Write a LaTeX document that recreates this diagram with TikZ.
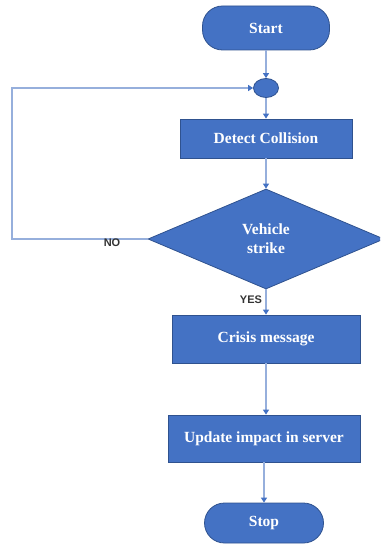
\documentclass[tikz,border=0pt]{standalone}
\usepackage{fontspec}
\setmainfont{Liberation Serif}
\newfontfamily\labelfont{Liberation Sans}
\usetikzlibrary{shapes.geometric,arrows.meta}
\definecolor{boxblue}{RGB}{68,114,196}
\definecolor{edgeblue}{RGB}{47,82,143}
\definecolor{linkblue}{RGB}{150,175,220}
\definecolor{tipblue}{RGB}{68,114,196}
\tikzset{
  shapebase/.style={fill=boxblue, draw=edgeblue, line width=0.8pt, text=white,
    font=\fontsize{15.5}{19}\selectfont\bfseries, inner sep=0pt, align=center},
  procbox/.style={shapebase, rectangle},
  termbox/.style={shapebase, rectangle, rounded corners=20pt},
  decbox/.style={shapebase, diamond},
  joinpt/.style={shapebase, ellipse},
  link/.style={draw=linkblue, line width=1.3pt, -{Triangle[length=5pt,width=6pt,fill=tipblue,color=tipblue]}},
  anslabel/.style={font=\labelfont\fontsize{11}{13}\selectfont\bfseries, text=black!80, inner sep=1pt}
}
\begin{document}
\begin{tikzpicture}[x=1pt,y=-1pt]
\useasboundingbox (0,0) rectangle (380,545);
\clip (0,0) rectangle (380,545);
\node[termbox, minimum width=127pt, minimum height=44pt] (start) at (266,28) {Start};
\node[joinpt, minimum width=25pt, minimum height=19pt] (join) at (266,88) {};
\node[procbox, minimum width=172pt, minimum height=39pt] (detect) at (266,138.5) {Detect Collision};
\node[decbox, minimum width=236pt, minimum height=100pt] (strike) at (266,239) {Vehicle\\strike};
\node[procbox, minimum width=188pt, minimum height=48pt] (crisis) at (266,339) {Crisis message};
\node[procbox, minimum width=192pt, minimum height=47pt] (update) at (264,438.5) {Update impact in server};
\node[termbox, minimum width=119pt, minimum height=40pt] (stop) at (264,523) {Stop};
\coordinate (loopbl) at (12,239);
\coordinate (looptl) at (12,88);
\draw[link] (start.south) -- (join.north);
\draw[link] (join.south) -- (detect.north);
\draw[link] (detect.south) -- (strike.north);
\draw[link] (strike.south) -- (crisis.north);
\draw[link] (crisis.south) -- (crisis.south |- update.north);
\draw[link] (update.south) -- (stop.north);
\draw[link] (strike.west) -- (loopbl) -- (looptl) -- (join.west);
\node[anslabel] (nolabel) at (112,243) {NO};
\node[anslabel] (yeslabel) at (251,300) {YES};
\end{tikzpicture}
\end{document}
